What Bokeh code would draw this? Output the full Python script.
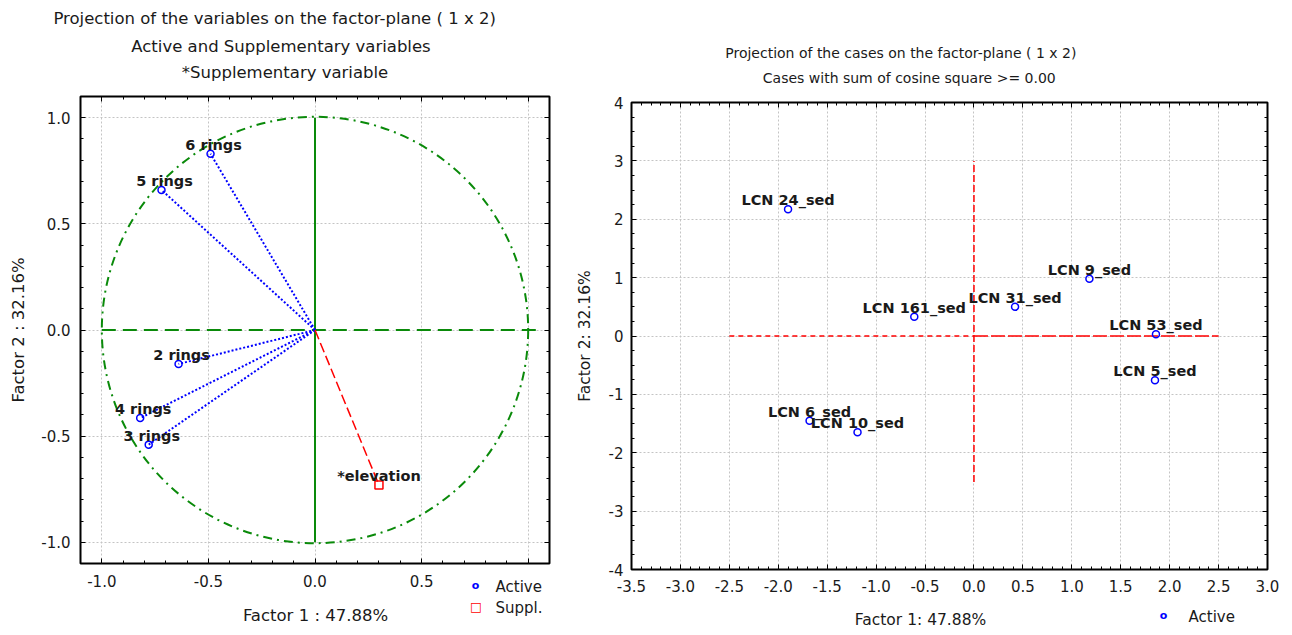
import math
from bokeh.plotting import figure
from bokeh.layouts import row, column
from bokeh.models import (Label, LinearAxis, SingleIntervalTicker,
                          CustomJSTickFormatter, Range1d)
from bokeh.core.properties import value
from bokeh.embed import file_html
from bokeh.resources import INLINE

FONT = "DejaVu Sans"

# ---------------- data: variables (left) ----------------
var_names = ["6 rings", "5 rings", "2 rings", "4 rings", "3 rings"]
var_f1 = [-0.49, -0.72, -0.64, -0.82, -0.78]
var_f2 = [0.83, 0.66, -0.16, -0.415, -0.54]
supp_names = ["*elevation"]
supp_f1 = [0.30]
supp_f2 = [-0.73]

# ---------------- data: cases (right) ----------------
case_names = ["LCN 24_sed", "LCN 161_sed", "LCN 31_sed", "LCN 9_sed",
              "LCN 53_sed", "LCN 5_sed", "LCN 6_sed", "LCN 10_sed"]
case_f1 = [-1.90, -0.61, 0.42, 1.18, 1.86, 1.85, -1.68, -1.19]
case_f2 = [2.17, 0.33, 0.50, 0.98, 0.03, -0.76, -1.45, -1.65]

# ---------------- texts ----------------
left_titles = ["Projection of the variables on the factor-plane (  1 x   2)",
               "Active and Supplementary variables",
               "*Supplementary variable"]
right_titles = ["Projection of the cases on the factor-plane (  1 x   2)",
                "Cases with sum of cosine square >=  0.00"]
left_xlabel = "Factor 1 : 47.88%"
left_ylabel = "Factor 2 : 32.16%"
right_xlabel = "Factor 1: 47.88%"
right_ylabel = "Factor 2: 32.16%"
legend_active = "Active"
legend_supp = "Suppl."

# reference constructs
unit_radius = [1.0]
left_hline_x = [-1.0, 1.05]
left_vline_y = [-1.0, 1.0]
right_hline_x = [-2.5, 0.0, 2.5]
right_vline_y = [-2.5, 3.0]

GREEN = "#0a8a0a"
BLUE = "#0000ff"
RED = "#ff0000"
TXT = "#1a1a1a"


def style_axes(p, xint, xminor, yint, yminor, xcode, ycode, xstand, ystand):
    bx = p.below[0]
    ly = p.left[0]
    xt = SingleIntervalTicker(interval=xint, num_minor_ticks=xminor)
    yt = SingleIntervalTicker(interval=yint, num_minor_ticks=yminor)
    top = LinearAxis(ticker=xt, formatter=CustomJSTickFormatter(code="return ''"))
    right = LinearAxis(ticker=yt, formatter=CustomJSTickFormatter(code="return ''"))
    p.add_layout(top, "above")
    p.add_layout(right, "right")
    bx.ticker = xt
    ly.ticker = yt
    bx.formatter = CustomJSTickFormatter(code=xcode)
    ly.formatter = CustomJSTickFormatter(code=ycode)
    for ax in [bx, ly, top, right]:
        ax.axis_line_color = None
        ax.major_tick_in = 5
        ax.major_tick_out = 0
        ax.minor_tick_in = 3
        ax.minor_tick_out = 0
        ax.major_tick_line_color = "black"
        ax.minor_tick_line_color = "black"
        ax.major_label_text_font = FONT
        ax.major_label_text_font_size = "15px"
        ax.major_label_text_color = TXT
        ax.axis_label_text_font = FONT
        ax.axis_label_text_font_style = "normal"
        ax.axis_label_text_color = TXT
    bx.major_label_standoff = xstand
    ly.major_label_standoff = ystand
    top.major_label_text_font_size = "1px"
    top.major_label_standoff = 0
    right.major_label_text_font_size = "1px"
    right.major_label_standoff = 0
    p.xgrid[0].ticker = xt
    p.ygrid[0].ticker = yt
    for g in [p.xgrid[0], p.ygrid[0]]:
        g.grid_line_color = "#c4c4c4"
        g.grid_line_dash = "2 2"
        g.grid_line_width = 1
    p.outline_line_color = "black"
    p.outline_line_width = 2
    return bx, ly


def side_label(p, side, x, y, text, size, align="center", color=TXT, style="normal"):
    p.add_layout(Label(x=x, y=y, x_units="screen", y_units="screen", text=text,
                       text_font=FONT, text_font_size=size, text_color=color,
                       text_font_style=style,
                       text_align=align, text_baseline="middle"), side)


# ================= LEFT FIGURE =================
pL = figure(frame_width=469, frame_height=467, min_border_left=80, min_border_right=19,
            min_border_top=96, min_border_bottom=72,
            x_range=Range1d(-1.1, 1.1), y_range=Range1d(-1.1, 1.1),
            output_backend="svg", toolbar_location=None)
bxL, lyL = style_axes(pL, 0.5, 5, 0.5, 5,
                      "return Math.abs(tick-1)<1e-9 ? '' : (Math.abs(tick)<1e-9 ? '0.0' : tick.toFixed(1))",
                      "return Math.abs(tick)<1e-9 ? '0.0' : tick.toFixed(1)",
                      11, 10)
lyL.axis_label = left_ylabel
lyL.axis_label_text_font_size = "16.5px"
lyL.axis_label_standoff = 10

pL.circle(x=[0], y=[0], radius=unit_radius, fill_color=None, line_color=GREEN,
          line_width=2, line_dash="9 5 2 5")
pL.segment(x0=[left_hline_x[0]], y0=[0], x1=[left_hline_x[1]], y1=[0],
           line_color=GREEN, line_width=2, line_dash="14 7")
pL.segment(x0=[0], y0=[left_vline_y[0]], x1=[0], y1=[left_vline_y[1]],
           line_color=GREEN, line_width=2)
pL.segment(x0=[0] * len(var_f1), y0=[0] * len(var_f1), x1=var_f1, y1=var_f2,
           line_color=BLUE, line_width=2, line_dash="2 2")
pL.segment(x0=[0] * len(supp_f1), y0=[0] * len(supp_f1), x1=supp_f1, y1=supp_f2,
           line_color=RED, line_width=1.5, line_dash="10 4")
pL.scatter(var_f1, var_f2, marker="circle", size=7, fill_color=None,
           line_color=BLUE, line_width=1.5)
pL.scatter(supp_f1, supp_f2, marker="square", size=8, fill_color=None,
           line_color=RED, line_width=1.5)
pL.text(var_f1, var_f2, text=var_names, text_align="center", text_baseline="alphabetic",
        x_offset=3, y_offset=-9, text_font=value(FONT), text_font_size="14.5px",
        text_font_style="bold", text_color=TXT)
pL.text(supp_f1, supp_f2, text=supp_names, text_align="center", text_baseline="alphabetic",
        x_offset=0, y_offset=-9, text_font=value(FONT), text_font_size="14.5px",
        text_font_style="bold", text_color=TXT)

# below stack: x axis, x label, legend text "Active"
side_label(pL, "below", 235, -6.5, left_xlabel, "16.5px")
side_label(pL, "below", 415, 39.2, legend_active, "15px", align="left")
# above stack: titles, legend text "Suppl."
side_label(pL, "above", 204.5, 24, left_titles[2], "16.5px")
side_label(pL, "above", 200.5, 31.5, left_titles[1], "16.5px")
side_label(pL, "above", 202, 40, left_titles[0], "16.5px")
side_label(pL, "above", 415, -568.5, legend_supp, "15px", align="left")
# right stack: legend markers
side_label(pL, "right", -74, -22.2, "o", "11px", color=BLUE, style="bold")
side_label(pL, "right", -81.6, -43, "\u25a1", "12.5px", color=RED, style="bold")

# ================= RIGHT FIGURE =================
pR = figure(frame_width=636, frame_height=467, min_border_left=62, min_border_right=20,
            min_border_top=102, min_border_bottom=66,
            x_range=Range1d(-3.5, 3.0), y_range=Range1d(-4, 4),
            output_backend="svg", toolbar_location=None)
bxR, lyR = style_axes(pR, 0.5, 5, 1, 4,
                      "return Math.abs(tick)<1e-9 ? '0.0' : tick.toFixed(1)",
                      "return Math.abs(tick)<1e-9 ? '0' : tick.toFixed(0)",
                      10, 8)
lyR.axis_label = right_ylabel
lyR.axis_label_text_font_size = "15.5px"
lyR.axis_label_standoff = 12

pR.segment(x0=[right_hline_x[0]], y0=[0], x1=[right_hline_x[1]], y1=[0],
           line_color=RED, line_width=1.5, line_dash="5 4")
pR.segment(x0=[right_hline_x[1]], y0=[0], x1=[right_hline_x[2]], y1=[0],
           line_color=RED, line_width=1.5, line_dash="14 3")
pR.segment(x0=[0], y0=[right_vline_y[0]], x1=[0], y1=[right_vline_y[1]],
           line_color=RED, line_width=1.5, line_dash="7 3")
pR.scatter(case_f1, case_f2, marker="circle", size=7, fill_color=None,
           line_color=BLUE, line_width=1.5)
pR.text(case_f1, case_f2, text=case_names, text_align="center", text_baseline="alphabetic",
        x_offset=0, y_offset=-9, text_font=value(FONT), text_font_size="14.5px",
        text_font_style="bold", text_color=TXT)

side_label(pR, "below", 289, -7.7, right_xlabel, "15.5px")
side_label(pR, "above", 280, 25, right_titles[1], "14px")
side_label(pR, "above", 276, 33.5, right_titles[0], "14px")
side_label(pR, "above", 557, -546, legend_active, "15px", align="left")
side_label(pR, "above", 532, -562.9, "o", "11px", color=BLUE, style="bold")

layout = row(pL, column(pR))
open("out.html", "w").write(file_html(layout, INLINE))
